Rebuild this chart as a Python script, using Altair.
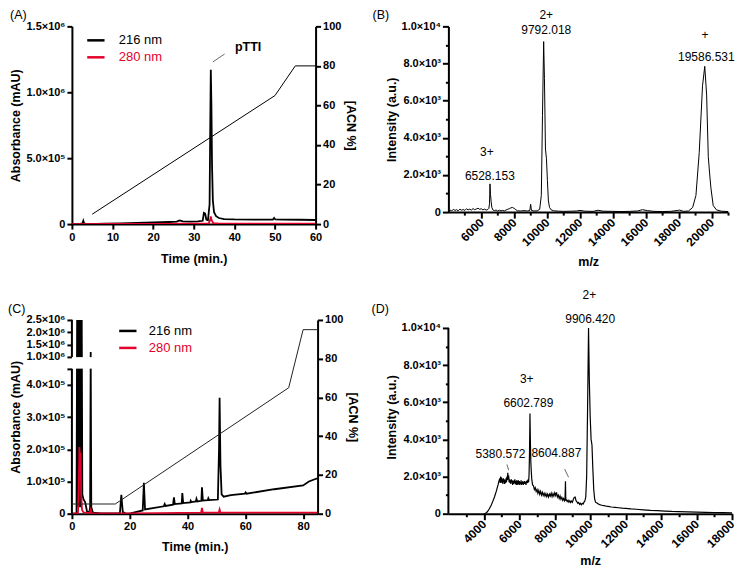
import altair as alt
import pandas as pd

FONT = "Liberation Sans"
RED = "#e4002b"
SERIES = ["216 nm", "280 nm"]

# ================= Panel A : HPLC of purified pTTI =================
A_T_216 = [0, 2.0, 2.6, 2.8, 3.0, 3.3, 4.0, 8, 12, 16, 20, 22, 24, 25.8, 26.5, 27.3, 29, 31,
           32.2, 32.5, 32.8, 33.1, 33.5, 33.9, 34.05, 34.2, 34.35, 34.5, 34.7, 35.0, 35.5, 36.2,
           37.5, 40, 45, 49.5, 49.8, 50.1, 52, 56, 60]
A_V_216 = [0, 1e3, 5e3, 2.5e4, 6e3, 2e3, 0, 3e3, 6e3, 9e3, 1.2e4, 1.4e4, 1.6e4, 1.9e4, 2.8e4, 2.0e4, 1.8e4, 2.0e4,
           2.5e4, 8.5e4, 8e4, 3.5e4, 3.0e4, 1.5e5, 7e5, 1.17e6, 9e5, 4.5e5, 1.8e5, 9e4, 6e4, 4.6e4,
           3.8e4, 3.5e4, 3.4e4, 3.4e4, 4.6e4, 3.5e4, 3.4e4, 3.3e4, 3.1e4]
A_T_280 = [0, 10, 20, 30, 33.7, 34.0, 34.2, 34.4, 34.8, 36, 45, 60]
A_V_280 = [0, 1e3, 2e3, 3e3, 4e3, 3e4, 5.8e4, 3e4, 8e3, 5e3, 4e3, 3e3]
A_ACN_T = [5, 50, 55, 60]
A_ACN_P = [5, 65, 80, 80]
A_XT = [0, 10, 20, 30, 40, 50, 60]
A_YT = [0, 500000, 1000000, 1500000]
A_YL = ["0", "5.0×10⁵", "1.0×10⁶", "1.5×10⁶"]
ACN_T = [0, 20, 40, 60, 80, 100]

# ================= Panel B : MALDI of pTTI =================
B_MZ = [4000, 4100, 4200, 4300, 4400, 4500, 4600, 4700, 4800, 4900,
        5000, 5100, 5200, 5300, 5400, 5500, 5600, 5700, 5800, 5900,
        6000, 6100, 6200, 6300, 6400, 6460, 6500, 6528, 6560, 6600,
        6640, 6700, 6800, 6900, 7000, 7100, 7200, 7300, 7400, 7500,
        7600, 7700, 7800, 7900, 8000, 8100, 8200, 8400, 8600, 8800,
        8950, 9000, 9050, 9200, 9400, 9550, 9650, 9720, 9792, 9840,
        9900, 9960, 10020, 10080, 10150, 10250, 10400, 10700, 11000, 11500,
        11800, 12000, 12300, 12800, 13100, 13400, 14000, 14500, 15000, 15500,
        15800, 16100, 16500, 17000, 17500, 17950, 18050, 18300, 18600, 18850,
        19050, 19250, 19450, 19586, 19700, 19800, 19880, 19960, 20100, 20300,
        20600, 21000]
B_I = [40, 110, 60, 150, 90, 130, 70, 160, 100, 140,
       90, 180, 120, 160, 110, 190, 130, 170, 210, 150,
       180, 120, 160, 110, 140, 200, 450, 1520, 950, 560,
       260, 120, 80, 110, 60, 100, 70, 90, 60, 110,
       150, 180, 230, 250, 200, 130, 70, 60, 80, 60,
       90, 420, 90, 60, 70, 150, 900, 5200, 9180, 7200,
       3400, 2900, 1700, 600, 250, 120, 70, 50, 40, 50,
       60, 90, 50, 40, 100, 50, 40, 30, 40, 60,
       130, 80, 40, 30, 40, 90, 110, 40, 60, 250,
       900, 3200, 6800, 7850, 6300, 3000, 2100, 1300, 350, 120,
       50, 30]
B_ANN_T = [6520, 6340, 9950, 9950, 19680, 19600]
B_ANN_V = [1920, 3230, 9780, 10600, 8330, 9530]
B_ANN_L = ["6528.153", "3+", "9792.018", "2+", "19586.531", "+"]
B_XT = list(range(5000, 21001, 1000))
MS_YT = list(range(0, 10001, 1000))
MS_YL = ["0", "", "2.0×10³", "", "4.0×10³", "", "6.0×10³", "", "8.0×10³", "", "1.0×10⁴"]

# ================= Panel C : HPLC of crude extract =================
C_T_216 = [0, 1.6, 1.8, 2.0, 2.2, 2.4, 2.6, 2.8, 3.0, 3.2, 3.4, 3.6,
           4.0, 4.6, 5.2, 6.0, 6.3, 6.5, 6.7, 7.3,
           10, 16.6, 17.1, 17.6, 18.5, 20, 22,
           24.5, 24.9, 25.3, 28, 31.8, 32.1, 32.4, 35, 35.3, 35.6,
           38, 38.2, 38.5, 41, 41.1, 41.4, 42.9, 43.1, 43.4,
           44.8, 45.0, 45.3, 47.0, 47.2, 47.5,
           50.5, 50.9, 51.1, 51.4, 51.8, 52.5,
           55, 59.8, 60.1, 60.4, 70, 80, 82, 84, 85]
C_V_216 = [0, 0, 2.5e6, 2e4, 2.5e6, 2e4, 2.5e6, 2e4, 2.5e6, 2e4, 2.5e6, 6e4,
           4.5e4, 3.5e4, 8e3, 3e3, 2e4, 1.2e6, 2e4, 3e3,
           1e3, 1e3, 5.9e4, 5e3, 1e3, 0, 5e3,
           1.0e4, 9.6e4, 1.3e4, 1.7e4, 2.3e4, 3.0e4, 2.4e4, 2.8e4, 5.1e4, 3.0e4,
           3.2e4, 6.4e4, 3.3e4, 3.5e4, 4.0e4, 3.6e4, 3.8e4, 4.6e4, 3.8e4,
           4.0e4, 8.2e4, 4.1e4, 4.2e4, 4.8e4, 4.2e4,
           4.4e4, 2e5, 3.6e5, 1.5e5, 6e4, 5.3e4,
           5.8e4, 6.2e4, 6.6e4, 6.2e4, 7.6e4, 8.8e4, 1.0e5, 1.07e5, 1.1e5]
C_T_280 = [0, 2.1, 2.4, 2.6, 2.8, 3.0, 3.2, 3.5, 4.0, 6.2, 6.5, 6.8, 10, 20, 30,
           44.7, 45.0, 45.3, 50.8, 51.1, 51.4, 60, 85]
C_V_280 = [0, 2e3, 1e5, 2.07e5, 1.6e5, 1.9e5, 6e4, 1.2e4, 4e3, 2e3, 1.2e4, 2e3, 1e3, 1e3, 2e3,
           3e3, 1.8e4, 3e3, 3e3, 1.3e4, 3e3, 3e3, 3e3]
C_ACN_T = [0, 15, 75, 80, 85]
C_ACN_P = [5, 5, 65, 95, 95]
C_XT = [0, 20, 40, 60, 80]
C_YT = [0, 100000, 200000, 300000, 400000, 450000, 1000000, 1500000, 2000000, 2500000]
C_YL = ["0", "1.0×10⁵", "2.0×10⁵", "3.0×10⁵", "4.0×10⁵", "", "1.0×10⁶", "1.5×10⁶", "2.0×10⁶", "2.5×10⁶"]
C_BREAK_DOMAIN = [0, 450000, 1000000, 2500000]
C_SEG_LO = [0, 1000000]
C_SEG_HI = [450000, 2500000]

# ================= Panel D : MALDI of crude extract =================
D_MZ = [4000, 4100, 4200, 4300, 4400, 4500, 4600, 4700, 4800, 4850,
        4900, 4925, 4950, 4975, 5000, 5025, 5050, 5075, 5100, 5125,
        5150, 5175, 5200, 5225, 5250, 5275, 5300, 5325, 5350, 5375,
        5400, 5425, 5450, 5475, 5500, 5525, 5550, 5575, 5600, 5625,
        5650, 5675, 5700, 5725, 5750, 5775, 5800, 5825, 5850, 5875,
        5900, 5925, 5950, 5975, 6000, 6025, 6050, 6075, 6100, 6125,
        6150, 6175, 6200, 6225, 6250, 6275, 6300, 6325, 6350, 6375,
        6400, 6425, 6450, 6475, 6500, 6525, 6550, 6575, 6602, 6625,
        6650, 6675, 6700, 6725, 6750, 6800, 6850, 6900, 6950, 7000,
        7050, 7100, 7150, 7200, 7250, 7300, 7350, 7400, 7450, 7500,
        7550, 7600, 7650, 7700, 7750, 7800, 7850, 7900, 7950, 8000,
        8050, 8100, 8150, 8200, 8250, 8300, 8350, 8400, 8450, 8500,
        8550, 8580, 8604, 8625, 8650, 8700, 8750, 8800, 8850, 8900,
        8950, 9000, 9050, 9100, 9150, 9200, 9250, 9300, 9350, 9400,
        9450, 9500, 9550, 9600, 9650, 9700, 9750, 9800, 9850, 9906,
        9950, 10000, 10050, 10100, 10150, 10200, 10250, 10300, 10400, 10500,
        10600, 10700, 10800, 10900, 11000, 11200, 11400, 11600, 11800, 12000,
        12300, 12600, 13000, 13400, 13800, 14200, 14600, 15000, 15500, 16000,
        16500, 17000, 17500, 18000]
D_I = [0, 20, 100, 250, 430, 650, 900, 1200, 1550, 1750,
       1900, 1650, 2000, 1700, 1950, 1650, 1850, 1600, 1900, 1700,
       1850, 1600, 1800, 1650, 1900, 1700, 2000, 1800, 2200, 1850,
       2050, 1700, 1850, 1650, 1800, 1600, 1850, 1700, 1800, 1550,
       1750, 1600, 1800, 1650, 1850, 1600, 1750, 1550, 1800, 1650,
       1700, 1550, 1800, 1600, 1750, 1550, 1700, 1600, 1800, 1550,
       1700, 1600, 1750, 1550, 1700, 1600, 1750, 1600, 1700, 1550,
       1750, 1650, 1800, 1650, 1850, 1700, 2100, 3200, 5400, 3900,
       2800, 2300, 1900, 1700, 1550, 1500, 1300, 1400, 1200, 1300,
       1100, 1250, 1050, 1200, 1000, 1150, 980, 1100, 950, 1080,
       920, 1050, 900, 1050, 950, 1100, 920, 1080, 950, 1120,
       980, 1150, 900, 1000, 820, 950, 780, 880, 720, 820,
       700, 780, 1740, 700, 760, 650, 720, 620, 700, 600,
       680, 620, 780, 880, 900, 700, 640, 560, 600, 500,
       560, 480, 560, 520, 620, 680, 900, 2000, 5500, 10000,
       7200, 5200, 4000, 3700, 2400, 1300, 800, 620, 560, 500,
       470, 440, 430, 400, 390, 360, 340, 320, 300, 290,
       260, 240, 210, 180, 160, 140, 120, 110, 95, 85,
       75, 65, 55, 50]
D_ANN_T = [9950, 10000, 6420, 6510, 4940, 8090]
D_ANN_V = [11750, 10480, 7250, 5980, 3240, 3280]
D_ANN_L = ["2+", "9906.420", "3+", "6602.789", "5380.572", "8604.887"]
D_LEAD_T = [5300, 8560]
D_LEAD_V = [2650, 2400]
D_LEAD_T2 = [5400, 8780]
D_LEAD_V2 = [2350, 1960]
D_XT = list(range(3000, 18001, 1000))
D_YMAX = 10430


def lab_expr(vals, labs):
    parts = [f"datum.value == {v} ? '{l}'" for v, l in zip(vals, labs)]
    return " : ".join(parts) + " : ''"


MINOR_TICK = {"condition": {"test": "datum.value % 2000 != 0", "value": 3}, "value": 6}
LEG = dict(title=None, orient="none", symbolType="stroke", symbolStrokeWidth=2.5, symbolSize=300,
           labelFont=FONT, labelFontSize=13, labelFontWeight="normal", rowPadding=-2,
           labelColor={"expr": f"datum.label == '280 nm' ? '{RED}' : 'black'"})


def panel_label(text, dx):
    return alt.Chart(pd.DataFrame({"lab": [text]})).mark_text(
        align="left", baseline="middle", fontSize=12.5, font=FONT, color="black"
    ).encode(x=alt.value(dx), y=alt.value(-11), text="lab:N")


# ---------------- Panel A ----------------
dfA = pd.DataFrame({"t": A_T_216 + A_T_280, "v": A_V_216 + A_V_280,
                    "s": [SERIES[0]] * len(A_T_216) + [SERIES[1]] * len(A_T_280)})
xA = alt.X("t:Q", scale=alt.Scale(domain=[0, 60], nice=False, zero=False),
           axis=alt.Axis(values=A_XT, title="Time (min.)", titlePadding=10))
yA = alt.Y("v:Q", scale=alt.Scale(domain=[0, 1.5e6], nice=False),
           axis=alt.Axis(values=A_YT, labelExpr=lab_expr(A_YT, A_YL), title="Absorbance (mAU)",
                         titlePadding=3, labelOverlap=False))
traceA = alt.Chart(dfA).mark_line(strokeWidth=1.8, clip=True).encode(
    x=xA, y=yA,
    color=alt.Color("s:N", scale=alt.Scale(domain=SERIES, range=["black", RED]),
                    legend=alt.Legend(legendX=14, legendY=4, labelOffset=13, **LEG)))
annA = alt.Chart(pd.DataFrame({"t": [43.4], "v": [1.347e6], "lab": ["pTTI"]})).mark_text(
    fontSize=12.5, fontWeight="bold", font=FONT, color="black").encode(x=xA, y=yA, text="lab:N")
leadA = alt.Chart(pd.DataFrame({"t": [34.7], "v": [1.23e6], "t2": [37.6], "v2": [1.29e6]})).mark_rule(
    color="#444444", strokeWidth=0.8).encode(x=xA, y=yA, x2="t2:Q", y2="v2:Q")
acnA = alt.Chart(pd.DataFrame({"t": A_ACN_T, "p": A_ACN_P})).mark_line(color="black", strokeWidth=1).encode(
    x=xA,
    y=alt.Y("p:Q", scale=alt.Scale(domain=[0, 100], nice=False),
            axis=alt.Axis(orient="right", values=ACN_T, title="[ACN %]", titlePadding=3)))
panelA = alt.layer(alt.layer(traceA, annA, leadA, panel_label("(A)", -62)), acnA).resolve_scale(
    y="independent").properties(width=244, height=198)

# ---------------- Panel B ----------------
xB = alt.X("t:Q", scale=alt.Scale(domain=[4000, 21000], nice=False, zero=False),
           axis=alt.Axis(values=B_XT, format="d", labelExpr="datum.value % 2000 == 0 ? datum.label : ''",
                         labelAngle=-45, labelAlign="right", labelBaseline="middle", tickSize=MINOR_TICK,
                         labelFontSize=12, title="m/z", titlePadding=8, labelOverlap=False))
yB = alt.Y("v:Q", scale=alt.Scale(domain=[0, 10000], nice=False),
           axis=alt.Axis(values=MS_YT, labelExpr=lab_expr(MS_YT, MS_YL), tickSize=MINOR_TICK,
                         title="Intensity (a.u.)", titlePadding=3, labelOverlap=False))
specB = alt.Chart(pd.DataFrame({"t": B_MZ, "v": B_I})).mark_line(color="black", strokeWidth=1, clip=True).encode(
    x=xB, y=yB)
annB = alt.Chart(pd.DataFrame({"t": B_ANN_T, "v": B_ANN_V, "lab": B_ANN_L})).mark_text(
    fontSize=12, font=FONT, color="black").encode(x=xB, y=yB, text="lab:N")
panelB = alt.layer(specB, annB, panel_label("(B)", -76)).properties(width=280, height=186)

# ---------------- Panel C ----------------
dfC = pd.DataFrame({"t": C_T_216 + C_T_280, "v": C_V_216 + C_V_280,
                    "s": [SERIES[0]] * len(C_T_216) + [SERIES[1]] * len(C_T_280)})
xC = alt.X("t:Q", scale=alt.Scale(domain=[0, 85], nice=False, zero=False),
           axis=alt.Axis(values=C_XT, title="Time (min.)", titlePadding=9))
yC = alt.Y("v:Q", scale=alt.Scale(domain=C_BREAK_DOMAIN, range=[194, 49, 37, 0], nice=False, zero=False),
           axis=alt.Axis(values=C_YT, labelExpr=lab_expr(C_YT, C_YL), title="Absorbance (mAU)",
                         titlePadding=3, labelOverlap=False, domain=False))
traceC = alt.Chart(dfC).mark_line(strokeWidth=1.8, clip=True).encode(
    x=xC, y=yC,
    color=alt.Color("s:N", scale=alt.Scale(domain=SERIES, range=["black", RED]),
                    legend=alt.Legend(legendX=46, legendY=1, labelOffset=11, **LEG)))
gapC = alt.Chart(pd.DataFrame({"t": [0], "t2": [10], "v": [462000], "v2": [990000]})).mark_rect(
    color="white").encode(x=xC, x2="t2:Q", y=yC, y2="v2:Q")
segC = alt.Chart(pd.DataFrame({"v": C_SEG_LO, "v2": C_SEG_HI})).mark_rule(color="black", strokeWidth=2).encode(
    x=alt.value(0), y=yC, y2="v2:Q")
acnC = alt.Chart(pd.DataFrame({"t": C_ACN_T, "p": C_ACN_P})).mark_line(color="#222222", strokeWidth=1).encode(
    x=xC,
    y=alt.Y("p:Q", scale=alt.Scale(domain=[0, 100], nice=False),
            axis=alt.Axis(orient="right", values=ACN_T, title="[ACN %]", titlePadding=3)))
panelC = alt.layer(alt.layer(traceC, gapC, segC, panel_label("(C)", -64)), acnC).resolve_scale(
    y="independent").properties(width=246, height=194)

# ---------------- Panel D ----------------
xD = alt.X("t:Q", scale=alt.Scale(domain=[2000, 18000], nice=False, zero=False),
           axis=alt.Axis(values=D_XT, format="d", labelExpr="datum.value % 2000 == 0 ? datum.label : ''",
                         labelAngle=-45, labelAlign="right", labelBaseline="middle", tickSize=MINOR_TICK,
                         labelFontSize=12, title="m/z", titlePadding=5, labelOverlap=False))
yD = alt.Y("v:Q", scale=alt.Scale(domain=[0, D_YMAX], nice=False),
           axis=alt.Axis(values=MS_YT, labelExpr=lab_expr(MS_YT, MS_YL), tickSize=MINOR_TICK,
                         title="Intensity (a.u.)", titlePadding=3, labelOverlap=False, domain=False))
specD = alt.Chart(pd.DataFrame({"t": D_MZ, "v": D_I})).mark_line(color="black", strokeWidth=1.2, clip=True).encode(
    x=xD, y=yD)
annD = alt.Chart(pd.DataFrame({"t": D_ANN_T, "v": D_ANN_V, "lab": D_ANN_L})).mark_text(
    fontSize=12, font=FONT, color="black").encode(x=xD, y=yD, text="lab:N")
leadD = alt.Chart(pd.DataFrame({"t": D_LEAD_T, "v": D_LEAD_V, "t2": D_LEAD_T2, "v2": D_LEAD_V2})).mark_rule(
    color="#444444", strokeWidth=0.8).encode(x=xD, y=yD, x2="t2:Q", y2="v2:Q")
segD = alt.Chart(pd.DataFrame({"v": [0], "v2": [10000]})).mark_rule(color="black", strokeWidth=2).encode(
    x=alt.value(0), y=yD, y2="v2:Q")
panelD = alt.layer(specD, annD, leadD, segD, panel_label("(D)", -77)).properties(width=284, height=194)

chart = alt.concat(panelA, panelB, panelC, panelD, columns=2).properties(
    bounds="flush", spacing={"row": 96, "column": 131}, align={"row": "each", "column": "none"}, padding=0
).resolve_scale(color="independent").configure_view(stroke=None).configure_axis(
    domainColor="black", domainWidth=2, tickColor="black", tickWidth=2, tickSize=5,
    labelFont=FONT, labelFontSize=11, labelFontWeight="bold", labelColor="black", labelPadding=2,
    labelFlush=False, titleFont=FONT, titleFontSize=12.5, titleFontWeight="bold", titleColor="black", grid=False
).configure_text(font=FONT)

chart.save("out.html", embed_options={"renderer": "svg", "actions": False})
